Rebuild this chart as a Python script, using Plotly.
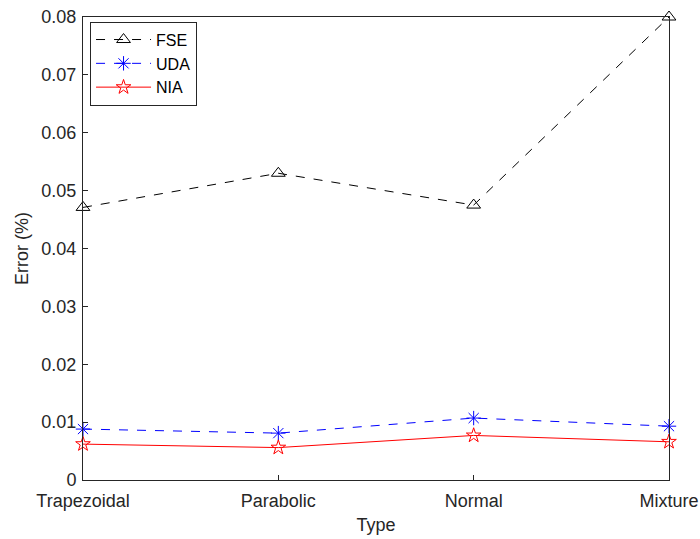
import plotly.graph_objects as go

types = ["Trapezoidal", "Parabolic", "Normal", "Mixture"]
fse = [0.0471, 0.0530, 0.0475, 0.0800]
uda = [0.0088, 0.0081, 0.0107, 0.0093]
nia = [0.0062, 0.0056, 0.0077, 0.0066]

fig = go.Figure()
fig.add_trace(go.Scatter(x=types, y=fse, name="FSE", mode="lines+markers",
                         line=dict(color="black", width=1, dash="dash"),
                         marker=dict(symbol="triangle-up-open", size=12, color="black", line=dict(width=1)),
                         cliponaxis=False))
fig.add_trace(go.Scatter(x=types, y=uda, name="UDA", mode="lines+markers",
                         line=dict(color="blue", width=1, dash="dash"),
                         marker=dict(symbol="asterisk-open", size=12, color="blue", line=dict(width=1, color="blue")),
                         cliponaxis=False))
fig.add_trace(go.Scatter(x=types, y=nia, name="NIA", mode="lines+markers",
                         line=dict(color="red", width=1),
                         marker=dict(symbol="star-open", size=11, color="red", line=dict(width=1)),
                         cliponaxis=False))

axis_common = dict(showline=True, linecolor="#262626", linewidth=1, mirror=True,
                   ticks="inside", ticklen=5, tickcolor="#262626", showgrid=False, zeroline=False,
                   tickfont=dict(size=18, color="#262626"), automargin=False)
fig.update_xaxes(range=[0, 3], ticklabelstandoff=4,
                 title=dict(text="Type", font=dict(size=18, color="#262626"), standoff=8),
                 **axis_common)
fig.update_yaxes(range=[0, 0.08], ticklabelstandoff=2,
                 title=dict(text="Error (%)", font=dict(size=18, color="#262626"), standoff=8),
                 **axis_common)
fig.update_yaxes(tickvals=[0, 0.01, 0.02, 0.03, 0.04, 0.05, 0.06, 0.07, 0.08],
                 ticktext=["0", "0.01", "0.02", "0.03", "0.04", "0.05", "0.06", "0.07", "0.08"])

fig.update_layout(width=700, height=539, margin=dict(l=83, r=31, t=17, b=59),
                  paper_bgcolor="white", plot_bgcolor="white",
                  font=dict(family="Liberation Sans, Arial, sans-serif", color="#262626"),
                  showlegend=True,
                  legend=dict(x=0.012, y=0.99, xanchor="left", yanchor="top",
                              bgcolor="white", bordercolor="#262626", borderwidth=1,
                              font=dict(size=16, color="black"), itemwidth=55,
                              tracegroupgap=0))
fig.write_html("out.html")
